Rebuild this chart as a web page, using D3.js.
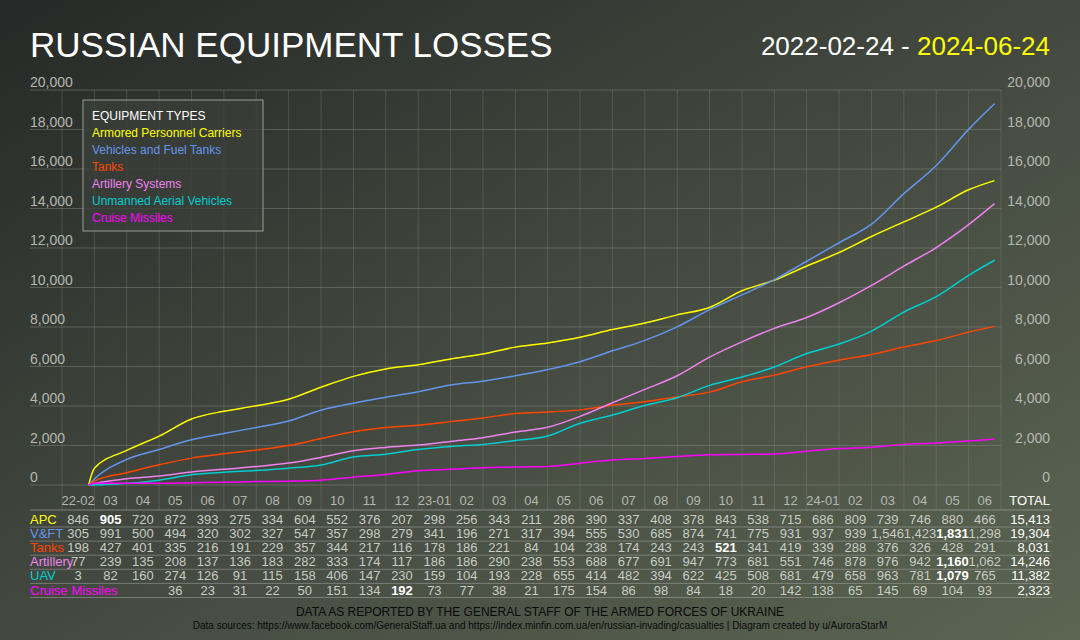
<!DOCTYPE html>
<html><head><meta charset="utf-8">
<script src="https://cdn.jsdelivr.net/npm/d3@7"></script>
<style>body{margin:0;background:#333}text{font-family:"Liberation Sans",Arial,sans-serif}</style>
</head><body><div id="wrapper"></div>
<script>
// monthly losses as reported, 2022-02 .. 2024-06
const months = ["22-02","03","04","05","06","07","08","09","10","11","12","23-01","02","03","04","05","06","07","08","09","10","11","12","24-01","02","03","04","05","06"]
const apc = [846,905,720,872,393,275,334,604,552,376,207,298,256,343,211,286,390,337,408,378,843,538,715,686,809,739,746,880,466]
const vft = [305,991,500,494,320,302,327,547,357,298,279,341,196,271,317,394,555,530,685,874,741,775,931,937,939,1546,1423,1831,1298]
const tanks = [198,427,401,335,216,191,229,357,344,217,116,178,186,221,84,104,238,174,243,243,521,341,419,339,288,376,326,428,291]
const artillery = [77,239,135,208,137,136,183,282,333,174,117,186,186,290,238,553,688,677,691,947,773,681,551,746,878,976,942,1160,1062]
const uav = [3,82,160,274,126,91,115,158,406,147,230,159,104,193,228,655,414,482,394,622,425,508,681,479,658,963,781,1079,765]
const missiles = [null,null,null,36,23,31,22,50,151,134,192,73,77,38,21,175,154,86,98,84,18,20,142,138,65,145,69,104,93]
const totals = [15413,19304,8031,14246,11382,2323]
const yTicks = [0,2000,4000,6000,8000,10000,12000,14000,16000,18000,20000]

const series = [
  {key:"APC", name:"Armored Personnel Carriers", color:"#ffff00", values:apc},
  {key:"V&FT", name:"Vehicles and Fuel Tanks", color:"#6495ed", values:vft},
  {key:"Tanks", name:"Tanks", color:"#ff4500", values:tanks},
  {key:"Artillery", name:"Artillery Systems", color:"#ee82ee", values:artillery},
  {key:"UAV", name:"Unmanned Aerial Vehicles", color:"#00ced1", values:uav},
  {key:"Cruise Missiles", name:"Cruise Missiles", color:"#ff00ff", values:missiles},
]
series.forEach((s,i) => s.total = totals[i])

const W = 1080, H = 640
const svg = d3.select("#wrapper").append("svg").attr("width", W).attr("height", H)

const grad = svg.append("defs").append("linearGradient").attr("id","bg")
  .attr("x1","0%").attr("y1","0%").attr("x2","100%").attr("y2","100%")
grad.append("stop").attr("offset","0%").attr("stop-color","#262927")
grad.append("stop").attr("offset","55%").attr("stop-color","#464c42")
grad.append("stop").attr("offset","100%").attr("stop-color","#5c6552")
svg.append("rect").attr("width",W).attr("height",H).attr("fill","url(#bg)")

// x in fractional months since 2022-02-01
const x = d3.scaleLinear().domain([0, months.length]).range([62, 1001])
const y = d3.scaleLinear().domain([0, 20000]).range([485, 90])

// grid
svg.append("g").selectAll("line").data(yTicks).join("line")
  .attr("x1",30).attr("x2",1001).attr("y1",d=>y(d)).attr("y2",d=>y(d))
  .attr("stroke","#8a8f86").attr("stroke-opacity",0.45)
svg.append("g").selectAll("line").data(d3.range(months.length+1)).join("line")
  .attr("x1",d=>x(d)).attr("x2",d=>x(d)).attr("y1",90).attr("y2",510)
  .attr("stroke","#8a8f86").attr("stroke-opacity",0.3)

const fmt = d3.format(",")
svg.append("g").selectAll("text").data(yTicks).join("text")
  .attr("x",30).attr("y",d=>y(d)-3).text(d=>fmt(d))
  .attr("fill","#b4b8b0").attr("font-size",14)
svg.append("g").selectAll("text").data(yTicks).join("text")
  .attr("x",1050).attr("text-anchor","end").attr("y",d=>y(d)-3).text(d=>fmt(d))
  .attr("fill","#b4b8b0").attr("font-size",14)

// cumulative lines; the start offset covers losses not listed month by month
series.forEach(s => {
  let c = s.total - d3.sum(s.values)
  const pts = [[23/28, 0]]
  s.values.forEach((v,i) => {
    c += v || 0
    const xi = i === months.length-1 ? i + 24/30 : i + 1
    pts.push([xi, c])
  })
  svg.append("path").datum(pts).attr("d", d3.line().x(d=>x(d[0])).y(d=>y(d[1])).curve(d3.curveMonotoneX))
    .attr("fill","none").attr("stroke",s.color).attr("stroke-width",1.5)
})

// legend
const lg = svg.append("g").attr("transform","translate(83,100)")
lg.append("rect").attr("width",180).attr("height",131).attr("fill","#3a3e38").attr("fill-opacity",0.8)
  .attr("stroke","#9a9e96")
lg.append("text").attr("x",9).attr("y",20).text("EQUIPMENT TYPES").attr("fill","#fff").attr("font-size",12)
series.forEach((s,i) => lg.append("text").attr("x",9).attr("y",37+i*17).text(s.name)
  .attr("fill",s.color).attr("font-size",12))

// table
const colX = i => x(i + 0.5)
svg.append("g").selectAll("text").data(months).join("text")
  .attr("x",(d,i)=>colX(i)).attr("y",505).attr("text-anchor","middle").text(d=>d)
  .attr("fill","#b4b8b0").attr("font-size",13)
svg.append("text").attr("x",1050).attr("y",505).attr("text-anchor","end").text("TOTAL")
  .attr("fill","#fff").attr("font-size",13)
svg.append("line").attr("x1",30).attr("x2",1052).attr("y1",510).attr("y2",510).attr("stroke","#aaa").attr("stroke-opacity",0.6)

series.forEach((s,r) => {
  const ry = 524 + r*14.1
  const mx = d3.max(s.values)
  const g = svg.append("g")
  g.append("line").attr("x1",30).attr("x2",1052).attr("y1",ry+3).attr("y2",ry+3).attr("stroke","#aaa").attr("stroke-opacity",0.5)
  g.selectAll("text.v").data(s.values).join("text").attr("class","v")
    .attr("x",(d,i)=>colX(i)).attr("y",ry).attr("text-anchor","middle")
    .text(d=>d==null?"":fmt(d))
    .attr("fill",d=>d===mx?"#fff":"#c8ccc4").attr("font-weight",d=>d===mx?"bold":"normal")
    .attr("font-size",13)
  g.append("text").attr("x",30).attr("y",ry).text(s.key).attr("fill",s.color).attr("font-size",13)
  g.append("text").attr("x",1050).attr("y",ry).attr("text-anchor","end").text(fmt(s.total))
    .attr("fill","#fff").attr("font-size",13)
})

// titles
svg.append("text").attr("x",30).attr("y",57).text("RUSSIAN EQUIPMENT LOSSES")
  .attr("fill","#fff").attr("font-size",35)
const dt = svg.append("text").attr("x",1050).attr("y",55).attr("text-anchor","end").attr("font-size",26)
dt.append("tspan").text("2022-02-24 - ").attr("fill","#fff")
dt.append("tspan").text("2024-06-24").attr("fill","#ffff00")
svg.append("text").attr("x",540).attr("y",616).attr("text-anchor","middle").attr("font-size",12)
  .attr("fill","#0a0a0a").text("DATA AS REPORTED BY THE GENERAL STAFF OF THE ARMED FORCES OF UKRAINE")
svg.append("text").attr("x",540).attr("y",629).attr("text-anchor","middle").attr("font-size",10)
  .attr("fill","#0a0a0a").text("Data sources: https://www.facebook.com/GeneralStaff.ua and https://index.minfin.com.ua/en/russian-invading/casualties | Diagram created by u/AuroraStarM")
</script></body></html>
